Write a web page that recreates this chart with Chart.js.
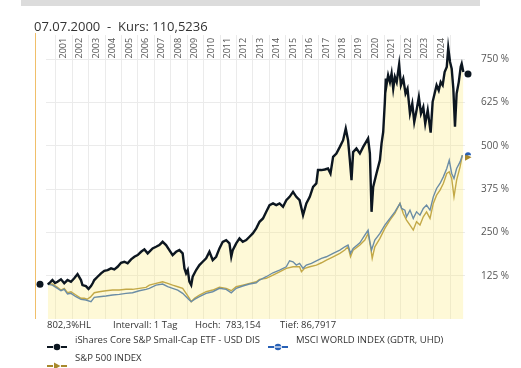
<!DOCTYPE html>
<html>
<head>
<meta charset="utf-8">
<script src="https://cdn.jsdelivr.net/npm/chart.js"></script>
<style>
  body { margin: 0; background: #fff; font-family: 'Open Sans', sans-serif; color: #333; }
  #wrap { position: relative; width: 521px; height: 368px; overflow: hidden; }
  #bar { position: absolute; left: 21px; top: 0; width: 459px; height: 6px; background: #dcdcdc; }
  #title { position: absolute; left: 34px; top: 19.5px; font-size: 13px; line-height: 13px; white-space: pre; color: #333; }
  canvas { position: absolute; left: 0; top: 0; }
  .info { position: absolute; top: 320px; font-size: 9.5px; line-height: 10px; white-space: pre; color: #333; }
  .leg-text { position: absolute; font-size: 9.5px; line-height: 10px; white-space: pre; color: #333; }
  .leg-mark { position: absolute; width: 20px; height: 10px; }
</style>
</head>
<body>
<div id="wrap">
  <div id="bar"></div>
  <canvas id="lineChart" width="521" height="368"></canvas>
  <div id="title">07.07.2000  -  Kurs: 110,5236</div>
  <div class="info" style="left:47px">802,3%HL</div>
  <div class="info" style="left:113px">Intervall: 1 Tag</div>
  <div class="info" style="left:195px">Hoch:  783,154</div>
  <div class="info" style="left:280px">Tief: 86,7917</div>
  <div id="legend"></div>
</div>
<script>
// year labels / gridlines
const yearLabels = [2001, 2002, 2003, 2004, 2005, 2006, 2007, 2008, 2009, 2010, 2011, 2012,
    2013, 2014, 2015, 2016, 2017, 2018, 2019, 2020, 2021, 2022, 2023, 2024];
const yearGrid = [...yearLabels, 2025];
const valueTicks = [125, 250, 375, 500, 625, 750];

const seriesNames = ['iShares Core S&P Small-Cap ETF - USD DIS', 'MSCI WORLD INDEX (GDTR, UHD)', 'S&P 500 INDEX'];

// iShares Core S&P Small-Cap ETF (black)
const etfDates = [2000.51,2000.65,2000.79,2000.95,2001.10,2001.31,2001.51,2001.71,2001.92,2002.12,
    2002.32,2002.53,2002.62,2002.83,2002.99,2003.14,2003.25,2003.34,2003.54,2003.75,
    2003.95,2004.15,2004.36,2004.56,2004.76,2004.97,2005.17,2005.37,2005.58,2005.78,
    2005.98,2006.19,2006.39,2006.59,2006.89,2007.10,2007.30,2007.50,2007.71,2007.91,
    2008.11,2008.32,2008.52,2008.72,2008.83,2008.93,2009.03,2009.13,2009.24,2009.33,
    2009.54,2009.74,2009.94,2010.15,2010.35,2010.55,2010.76,2010.96,2011.16,2011.37,
    2011.57,2011.68,2011.77,2011.98,2012.18,2012.38,2012.59,2012.79,2012.99,2013.20,
    2013.40,2013.61,2013.81,2014.01,2014.22,2014.42,2014.62,2014.83,2015.03,2015.23,
    2015.44,2015.64,2015.84,2016.05,2016.25,2016.46,2016.66,2016.86,2016.96,2017.17,
    2017.37,2017.57,2017.72,2017.88,2018.08,2018.29,2018.49,2018.65,2018.79,2018.90,
    2019.00,2019.10,2019.30,2019.51,2019.71,2020.01,2020.12,2020.22,2020.32,2020.52,
    2020.73,2020.83,2020.93,2021.03,2021.09,2021.13,2021.23,2021.34,2021.44,2021.54,
    2021.64,2021.75,2021.90,2022.01,2022.15,2022.29,2022.41,2022.56,2022.70,2022.82,
    2022.96,2023.10,2023.23,2023.37,2023.49,2023.64,2023.82,2023.94,2024.06,2024.18,
    2024.31,2024.43,2024.55,2024.67,2024.80,2024.89,2025.00,2025.10,2025.20,2025.30,
    2025.40,2025.53,2025.65,2025.71,2025.81];
const etfValues = [100,106,112.5,104,107.6,114.5,103,112.5,107.6,117.4,
    129.8,112.5,98,95,87,95,104,112.5,122,131.8,
    139.3,141.3,146.2,143.3,150.8,162.4,165.3,160.6,172.2,179.7,
    184.6,194.1,201,189.5,203.9,208.5,213.4,222.9,213.4,199,
    184.6,194.1,199,189.5,146.2,131.8,141.3,107.6,98,122,
    141.3,155.7,165.3,175.1,194.1,170.2,179.7,203.9,222.9,227.8,
    218.3,179.7,199,218.3,232.7,222.9,227.8,237.4,247.2,261.6,
    280.6,290.4,309.5,328.8,333.7,328.8,333.7,323.9,343.2,352.7,
    367.1,352.7,343.2,299.9,333.7,352.7,381.5,391.4,430,430,
    431.7,434.6,420.2,468.1,477.9,496.9,516.2,550,516.2,458.6,
    400.9,482,492.3,477.9,496.9,521.1,477.9,309.5,381.5,420.2,
    458.6,507,540,627,694,675,704,684,709,665,
    699,684,735,675,694,651,665,593,622,569,
    603,641,593,612,564,603,538,627,651,675,
    660,684,675,713,728,783,742,723,665,555,
    651,684,728,737,713];

// MSCI World (blue)
const msciDates = [2000.51,2000.79,2001.10,2001.31,2001.51,2001.71,2001.92,2002.22,2002.53,2002.83,
    2003.14,2003.34,2003.64,2004.05,2004.45,2004.86,2005.27,2005.67,2006.08,2006.49,
    2006.69,2007.10,2007.50,2007.81,2008.11,2008.42,2008.72,2008.93,2009.13,2009.24,
    2009.44,2009.74,2010.15,2010.55,2010.96,2011.37,2011.68,2011.98,2012.38,2012.79,
    2013.20,2013.40,2013.81,2014.22,2014.62,2015.03,2015.23,2015.44,2015.64,2015.84,
    2016.05,2016.25,2016.56,2016.86,2017.17,2017.47,2017.88,2018.29,2018.59,2018.79,
    2018.94,2019.10,2019.51,2019.81,2020.01,2020.12,2020.22,2020.42,2020.73,2021.03,
    2021.34,2021.64,2021.95,2022.05,2022.25,2022.35,2022.56,2022.76,2022.96,2023.17,
    2023.37,2023.57,2023.78,2023.98,2024.18,2024.39,2024.59,2024.80,2024.95,2025.10,
    2025.24,2025.40,2025.61,2025.75];
const msciValues = [100,98,88.5,81.6,85.7,72.1,74.1,64.3,56.8,54.8,
    49.9,62.6,64.3,66.3,69.2,71.2,74.1,75.8,81.6,85.7,
    88.5,98,100.9,93.2,88.5,83.6,74.1,64.3,54.8,49.9,
    56.8,64.3,74.1,78.7,88.5,85.7,75.8,88.5,95.2,100.9,
    104.7,112.5,122,133.5,141.3,150.8,168.1,165.3,155.7,160.6,
    146.2,155.7,160.6,168.1,175.1,179.7,189.5,199,208.5,213.4,
    189.5,203.9,220,242.3,256.7,222.9,199,227.8,247.2,271.1,
    290.4,309.5,333.7,319.3,314.4,295,314.4,290.4,309.5,299.9,
    319.3,328.8,314.4,352.7,376.9,391.4,410.4,434.6,458.6,420.2,
    405.8,434.6,453.7,473];

// S&P 500 (gold)
const spDates = [2000.51,2000.79,2001.10,2001.31,2001.51,2001.71,2001.92,2002.22,2002.53,2002.73,
    2002.90,2003.10,2003.34,2003.64,2004.05,2004.45,2004.86,2005.27,2005.67,2006.08,
    2006.49,2006.69,2007.10,2007.50,2007.81,2008.11,2008.42,2008.72,2008.93,2009.13,
    2009.24,2009.44,2009.74,2010.15,2010.55,2010.96,2011.37,2011.68,2011.98,2012.38,
    2012.79,2013.20,2013.40,2013.81,2014.22,2014.62,2015.03,2015.44,2015.84,2015.95,
    2016.15,2016.46,2016.86,2017.17,2017.47,2017.88,2018.29,2018.59,2018.79,2018.94,
    2019.10,2019.51,2019.81,2020.01,2020.16,2020.26,2020.42,2020.73,2021.03,2021.34,
    2021.64,2021.95,2022.15,2022.35,2022.56,2022.76,2022.96,2023.17,2023.37,2023.57,
    2023.78,2023.98,2024.18,2024.39,2024.59,2024.80,2024.95,2025.10,2025.24,2025.40,
    2025.61,2025.75];
const spValues = [100,100.9,91.4,83.6,88.5,75.8,78.7,69.2,59.7,59.7,
    57,63,75.8,78.7,81.6,83.6,83.6,85.7,85.7,88.5,
    91.4,98,103,107.6,103,98,93.2,88.5,74.1,59.7,
    49.9,59.7,69.2,78.7,83.6,91.4,88.5,81.6,93.2,98,
    103,107.6,114.5,117.4,126.9,136.4,146.2,150.8,150.8,136.4,
    146.2,150.8,155.7,162.4,170.2,179.7,189.5,199,208.5,179.7,
    199,213.4,227.8,247.2,208.5,175.1,208.5,232.7,261.6,285.5,
    304.8,333.7,304.8,285.5,271.1,256.7,280.6,271.1,295,309.5,
    290.4,333.7,357.6,372,391.4,420.2,424.8,405.8,352.7,400.9,
    439.2,473];

const COLORS = { etf: '#0c1620', msci: '#2760b6', sp: '#a8892c' };

const toPoints = (dates, values) => dates.map((d, i) => ({ x: d, y: values[i] }));

// markers drawn outside the plot + year labels on top of the plot
const overlay = {
    id: 'overlay',
    afterDatasetsDraw(chart) {
        const { ctx, chartArea: a, scales: { x, y } } = chart;
        ctx.save();

        // crosshair line at the left
        ctx.strokeStyle = '#f0bf6a';
        ctx.lineWidth = 1;
        ctx.beginPath();
        ctx.moveTo(a.left - 10.5, a.top - 2);
        ctx.lineTo(a.left - 10.5, a.bottom);
        ctx.stroke();

        // rotated year labels
        ctx.fillStyle = '#555';
        ctx.font = '9px "Open Sans"';
        ctx.textAlign = 'left';
        ctx.textBaseline = 'middle';
        yearLabels.forEach(yr => {
            ctx.save();
            ctx.translate(x.getPixelForValue(yr + 0.45), a.top + 23.5);
            ctx.rotate(-Math.PI / 2);
            ctx.fillText(String(yr), 0, 0);
            ctx.restore();
        });

        // start dot
        ctx.fillStyle = COLORS.etf;
        ctx.beginPath();
        ctx.arc(a.left - 6, y.getPixelForValue(etfValues[0]), 3.5, 0, Math.PI * 2);
        ctx.fill();

        // end markers
        const ex = a.right + 3;
        ctx.beginPath();
        ctx.arc(ex, y.getPixelForValue(etfValues[etfValues.length - 1]) + 2, 3.5, 0, Math.PI * 2);
        ctx.fill();

        const ys = y.getPixelForValue(spValues[spValues.length - 1]) + 2;
        ctx.fillStyle = COLORS.sp;
        ctx.beginPath();
        ctx.moveTo(ex - 3, ys - 3.5);
        ctx.lineTo(ex + 3.5, ys);
        ctx.lineTo(ex - 3, ys + 3.5);
        ctx.closePath();
        ctx.fill();

        const ym = y.getPixelForValue(msciValues[msciValues.length - 1]);
        ctx.fillStyle = COLORS.msci;
        ctx.beginPath();
        ctx.arc(ex, ym, 3, Math.PI, 0);
        ctx.fill();

        ctx.restore();
    }
};

const ctx = document.getElementById('lineChart').getContext('2d');
new Chart(ctx, {
    type: 'line',
    data: {
        datasets: [
            {
                label: seriesNames[0],
                data: toPoints(etfDates, etfValues),
                borderColor: COLORS.etf,
                borderWidth: 2.4,
                pointRadius: 0,
                fill: 'origin',
                backgroundColor: 'rgba(252, 236, 130, 0.32)'
            },
            {
                label: seriesNames[1],
                data: toPoints(msciDates, msciValues),
                borderColor: COLORS.msci,
                borderWidth: 1.4,
                pointRadius: 0,
                fill: false
            },
            {
                label: seriesNames[2],
                data: toPoints(spDates, spValues),
                borderColor: COLORS.sp,
                borderWidth: 1.4,
                pointRadius: 0,
                fill: false
            }
        ]
    },
    options: {
        responsive: false,
        animation: false,
        devicePixelRatio: 1,
        layout: { padding: { left: 46, top: 35, bottom: 49, right: 0 } },
        plugins: { legend: { display: false }, tooltip: { enabled: false } },
        scales: {
            x: {
                type: 'linear',
                min: 2000.40,
                max: 2025.91,
                afterBuildTicks: s => { s.ticks = yearGrid.map(v => ({ value: v })); },
                grid: { color: '#ebebeb', drawTicks: false },
                border: { display: false },
                ticks: { display: false }
            },
            y: {
                position: 'right',
                min: 0,
                max: 820,
                afterBuildTicks: s => { s.ticks = valueTicks.map(v => ({ value: v })); },
                afterFit: s => { s.width = 56; },
                grid: { color: '#ebebeb', drawTicks: false },
                border: { display: false },
                ticks: {
                    padding: 16,
                    color: '#555',
                    font: { family: 'Open Sans', size: 10 },
                    callback: v => v + ' %'
                }
            }
        }
    },
    plugins: [overlay]
});

// legend
const markers = [
    `<svg width="20" height="10"><line x1="0" y1="5" x2="20" y2="5" stroke="${COLORS.etf}" stroke-width="2" stroke-dasharray="6 8 6"/><circle cx="10" cy="5" r="3.3" fill="${COLORS.etf}"/></svg>`,
    `<svg width="20" height="10"><line x1="0" y1="5" x2="20" y2="5" stroke="${COLORS.msci}" stroke-width="2" stroke-dasharray="6 8 6"/><circle cx="10" cy="5" r="3.3" fill="${COLORS.msci}"/><line x1="7" y1="5" x2="13" y2="5" stroke="#fff" stroke-width="1.2"/></svg>`,
    `<svg width="20" height="10"><line x1="0" y1="5" x2="20" y2="5" stroke="${COLORS.sp}" stroke-width="2" stroke-dasharray="6 8 6"/><path d="M7 1.5 L13.5 5 L7 8.5 Z" fill="${COLORS.sp}"/></svg>`
];
const legendPos = [[47, 340], [268, 340], [47, 358.5]];
const legend = document.getElementById('legend');
seriesNames.forEach((name, i) => {
    const [lx, ly] = legendPos[i];
    const mark = document.createElement('div');
    mark.className = 'leg-mark';
    mark.style.left = lx + 'px';
    mark.style.top = (ly - 5) + 'px';
    mark.innerHTML = markers[i];
    legend.appendChild(mark);
    const txt = document.createElement('div');
    txt.className = 'leg-text';
    txt.style.left = (lx + 28) + 'px';
    txt.style.top = (ly - 5.3) + 'px';
    txt.textContent = name;
    legend.appendChild(txt);
});
</script>
</body>
</html>
